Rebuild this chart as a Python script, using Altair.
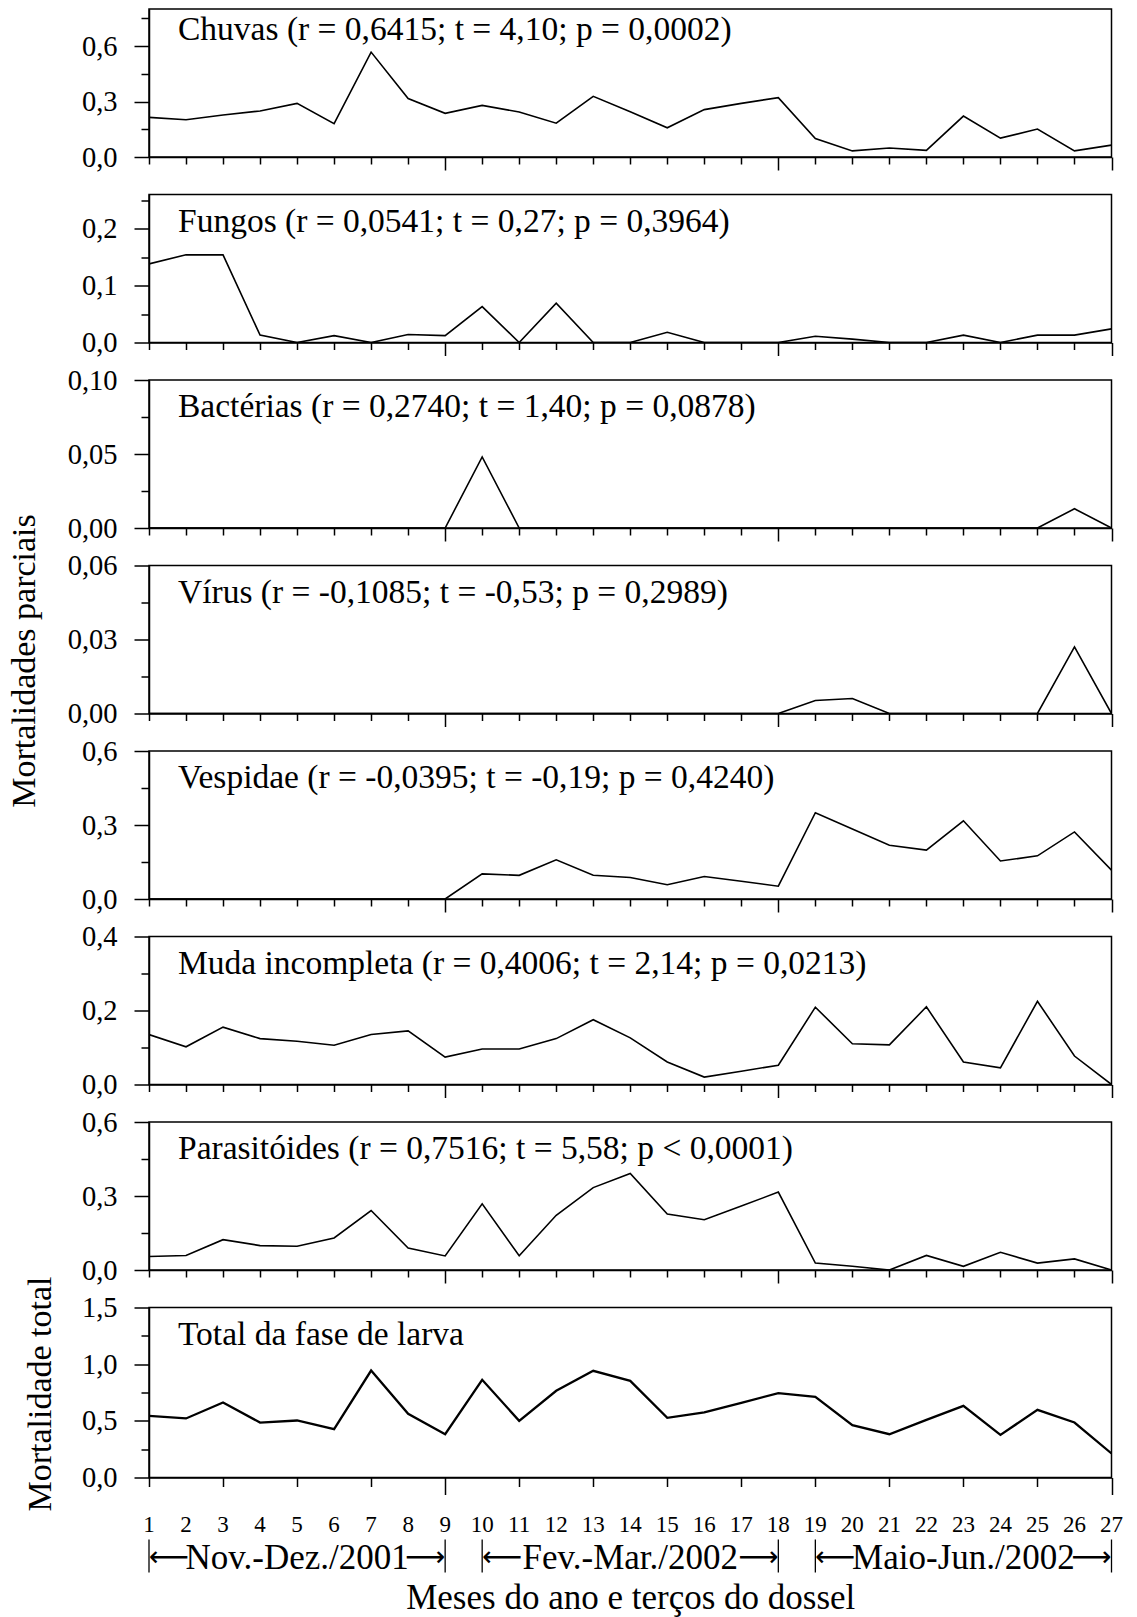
import altair as alt
import pandas as pd

FONT = "Liberation Serif"

# ---------------- data ----------------
periodo = list(range(1, 28))

chuvas = [0.214, 0.201, 0.227, 0.249, 0.290, 0.180, 0.567, 0.316, 0.236, 0.279,
          0.243, 0.183, 0.328, 0.245, 0.158, 0.256, 0.290, 0.321, 0.100, 0.033,
          0.049, 0.036, 0.221, 0.102, 0.151, 0.033, 0.064]
fungos = [0.138, 0.154, 0.154, 0.013, 0.000, 0.012, 0.000, 0.014, 0.012, 0.063,
          0.000, 0.069, 0.000, 0.000, 0.018, 0.000, 0.000, 0.000, 0.011, 0.006,
          0.000, 0.000, 0.013, 0.000, 0.013, 0.013, 0.024]
bacterias = [0.0, 0.0, 0.0, 0.0, 0.0, 0.0, 0.0, 0.0, 0.0, 0.048,
             0.0, 0.0, 0.0, 0.0, 0.0, 0.0, 0.0, 0.0, 0.0, 0.0,
             0.0, 0.0, 0.0, 0.0, 0.0, 0.013, 0.0]
virus = [0.0, 0.0, 0.0, 0.0, 0.0, 0.0, 0.0, 0.0, 0.0, 0.0,
         0.0, 0.0, 0.0, 0.0, 0.0, 0.0, 0.0, 0.0, 0.0053, 0.0061,
         0.0, 0.0, 0.0, 0.0, 0.0, 0.027, 0.0]
vespidae = [0.0, 0.0, 0.0, 0.0, 0.0, 0.0, 0.0, 0.0, 0.0, 0.102,
            0.096, 0.159, 0.096, 0.087, 0.058, 0.091, 0.072, 0.052, 0.350, 0.284,
            0.218, 0.198, 0.317, 0.154, 0.175, 0.272, 0.117]
muda = [0.135, 0.102, 0.155, 0.124, 0.117, 0.106, 0.135, 0.145, 0.074, 0.096,
        0.096, 0.124, 0.175, 0.126, 0.061, 0.020, 0.036, 0.052, 0.209, 0.110,
        0.107, 0.210, 0.061, 0.045, 0.225, 0.077, 0.000]
parasitoides = [0.055, 0.059, 0.123, 0.099, 0.096, 0.130, 0.241, 0.089, 0.057, 0.268,
                0.058, 0.222, 0.334, 0.391, 0.227, 0.204, 0.259, 0.316, 0.028, 0.015,
                0.000, 0.059, 0.015, 0.072, 0.028, 0.045, 0.000]
total = [0.544, 0.521, 0.662, 0.485, 0.503, 0.426, 0.944, 0.562, 0.382, 0.862,
         0.500, 0.765, 0.941, 0.853, 0.526, 0.574, 0.659, 0.744, 0.712, 0.462,
         0.382, 0.509, 0.632, 0.376, 0.597, 0.485, 0.212]

rotulos = [
    "Chuvas (r = 0,6415; t = 4,10; p = 0,0002)",
    "Fungos (r = 0,0541; t = 0,27; p = 0,3964)",
    "Bactérias (r = 0,2740; t = 1,40; p = 0,0878)",
    "Vírus (r = -0,1085; t = -0,53; p = 0,2989)",
    "Vespidae (r = -0,0395; t = -0,19; p = 0,4240)",
    "Muda incompleta (r = 0,4006; t = 2,14; p = 0,0213)",
    "Parasitóides (r = 0,7516; t = 5,58; p < 0,0001)",
    "Total da fase de larva",
]

# y-axis: domain max, all tick values, labelled (major) tick values, format
y_dominios = [0.8, 0.26, 0.10, 0.06, 0.6, 0.4, 0.6, 1.5]
y_ticks = [
    [0, 0.15, 0.3, 0.45, 0.6, 0.75],
    [0, 0.05, 0.1, 0.15, 0.2, 0.25],
    [0, 0.025, 0.05, 0.075, 0.1],
    [0, 0.015, 0.03, 0.045, 0.06],
    [0, 0.15, 0.3, 0.45, 0.6],
    [0, 0.1, 0.2, 0.3, 0.4],
    [0, 0.15, 0.3, 0.45, 0.6],
    [0, 0.25, 0.5, 0.75, 1.0, 1.25, 1.5],
]
y_major = [
    [0, 0.3, 0.6],
    [0, 0.1, 0.2],
    [0, 0.05, 0.1],
    [0, 0.03, 0.06],
    [0, 0.3, 0.6],
    [0, 0.2, 0.4],
    [0, 0.3, 0.6],
    [0, 0.5, 1.0, 1.5],
]
y_formatos = [".1f", ".1f", ".2f", ".2f", ".1f", ".1f", ".1f", ".1f"]

series = [chuvas, fungos, bacterias, virus, vespidae, muda, parasitoides, total]

# periods below the x axis
periodos_txt = ["Nov.-Dez./2001", "Fev.-Mar./2002", "Maio-Jun./2002"]
periodos_ini = [1, 10, 19]
periodos_fim = [9, 18, 27]

titulo_x = "Meses do ano e terços do dossel"
titulo_parciais = "Mortalidades parciais"
titulo_total = "Mortalidade total"

W = 962.5


def js_list(vals):
    return "[" + ",".join(repr(float(v)) for v in vals) + "]"


def painel(i):
    n = len(series)
    last = i == n - 1
    h = 170 if last else 148
    df = pd.DataFrame({"x": periodo, "y": series[i]})
    maj = js_list(y_major[i])
    test_major = f"indexof({maj}, datum.value) >= 0"

    ytitle = None
    yaxis_kw = {}
    if i == 3:
        ytitle = titulo_parciais
        yaxis_kw = dict(titleX=-115, titleY=95, titleAngle=-90,
                        titleBaseline="alphabetic", titleAlign="center")
    if last:
        ytitle = titulo_total
        yaxis_kw = dict(titleX=-99, titleY=86, titleAngle=-90,
                        titleBaseline="alphabetic", titleAlign="center")

    yaxis = alt.Axis(
        values=y_ticks[i],
        tickSize={"condition": {"test": test_major, "value": 15}, "value": 8},
        labelExpr=f"{test_major} ? replace(format(datum.value, '{y_formatos[i]}'), '.', ',') : ''",
        labelPadding=17,
        labelFontSize=28.5,
        labelFlush=False,
        labelOverlap=False,
        labelBound=False,
        title=ytitle,
        titleFontSize=34,
        titleFontWeight="normal",
        **yaxis_kw,
    )

    if last:
        xaxis = alt.Axis(
            values=periodo,
            tickSize={"condition": {"test": "datum.value % 9 === 0", "value": 17}, "value": 9},
            labels=False,
            title=titulo_x,
            titleFontSize=35,
            titleFontWeight="normal",
            titleY=131,
            titleBaseline="alphabetic",
        )
    else:
        xaxis = alt.Axis(
            values=periodo,
            tickSize={"condition": {"test": "datum.value % 9 === 0", "value": 13}, "value": 7},
            labels=False,
            title=None,
        )

    base = alt.Chart(df)
    linha = base.mark_line(color="black", strokeWidth=2.3 if last else 1.6, clip=True).encode(
        x=alt.X("x:Q", scale=alt.Scale(domain=[1, 27], nice=False, zero=False), axis=xaxis),
        y=alt.Y("y:Q", scale=alt.Scale(domain=[0, y_dominios[i]], nice=False), axis=yaxis),
    )
    texto = alt.Chart(pd.DataFrame({"t": [rotulos[i]]})).mark_text(
        align="left", baseline="alphabetic", font=FONT, fontSize=33.5, color="black"
    ).encode(
        x=alt.value(29),
        y=alt.value(31 if i == 0 else 37),
        text="t:N",
    )
    layers = [linha, texto]

    if last:
        # x tick labels (every period number)
        ticklab = alt.Chart(pd.DataFrame({"p": periodo})).mark_text(
            align="center", baseline="alphabetic", font=FONT, fontSize=23, color="black"
        ).encode(x="p:Q", y=alt.value(h + 54), text="p:Q")

        pdf = pd.DataFrame({"ini": periodos_ini, "fim": periodos_fim, "txt": periodos_txt})
        pdf["meio"] = (pdf["ini"] + pdf["fim"]) / 2
        barras = pd.DataFrame({"b": periodos_ini + periodos_fim})
        rule = alt.Chart(barras).mark_rule(color="black", strokeWidth=1.3).encode(
            x="b:Q", y=alt.value(h + 62), y2=alt.value(h + 95)
        )
        lab = alt.Chart(pdf).mark_text(
            align="center", baseline="alphabetic", font=FONT, fontSize=35, color="black"
        ).encode(x="meio:Q", y=alt.value(h + 91), text="txt:N")
        seta_e = alt.Chart(pdf).mark_text(
            align="left", baseline="middle", font="DejaVu Sans", fontSize=28, color="black", text="⟵"
        ).encode(x="ini:Q", y=alt.value(h + 80))
        seta_d = alt.Chart(pdf).mark_text(
            align="right", baseline="middle", font="DejaVu Sans", fontSize=28, color="black", text="⟶"
        ).encode(x="fim:Q", y=alt.value(h + 80))
        layers += [ticklab, rule, lab, seta_e, seta_d]

    return alt.layer(*layers).properties(width=W, height=h)


chart = alt.vconcat(*[painel(i) for i in range(len(series))], spacing=37.5, bounds="flush").configure_view(
    stroke="black", strokeWidth=1.5
).configure_axis(
    domainColor="black",
    domainWidth=1.5,
    tickColor="black",
    tickWidth=1.5,
    labelColor="black",
    titleColor="black",
    labelFont=FONT,
    titleFont=FONT,
    grid=False,
).properties(
    padding={"left": 6, "top": 3, "right": 0, "bottom": 0},
    background="white",
)

chart.save("out.html", embed_options={"renderer": "svg", "actions": False})
